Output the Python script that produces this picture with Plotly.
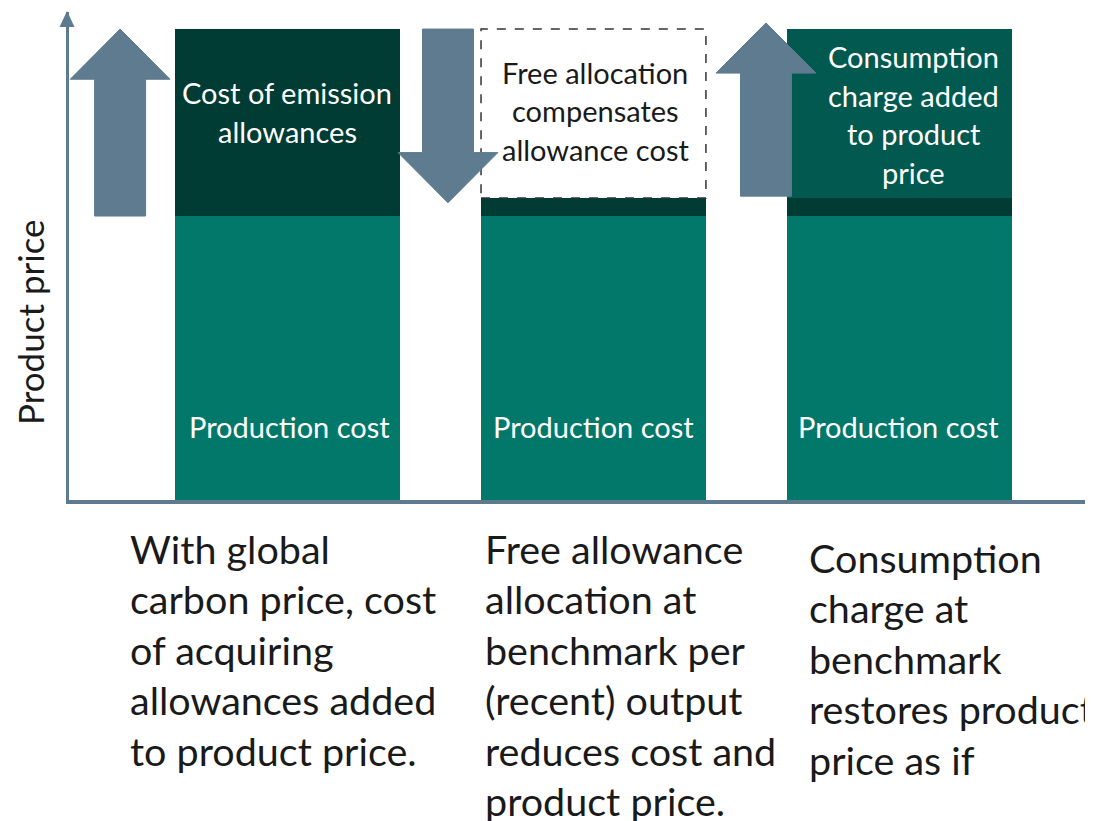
import plotly.graph_objects as go

# ---------------- data ----------------
x_pos = [0, 1, 2]
production_cost = [6.0, 6.0, 6.0]
allowance_cost = [3.95, 0.38, 0.38]
top_segment = [0.0, 3.57, 3.57]          # free allocation (dashed) / consumption charge

production_label = "Production cost"
top_labels = [
    ["Cost of emission", "allowances"],
    ["Free allocation", "compensates", "allowance cost"],
    ["Consumption", "charge added", "to product", "price"],
]
bottom_labels = [
    ["With global", "carbon price, cost", "of acquiring", "allowances added", "to product price."],
    ["Free allowance", "allocation at", "benchmark per", "(recent) output", "reduces cost and", "product price."],
    ["Consumption", "charge at", "benchmark", "restores product", "price as if"],
]
y_title = "Product price"

# ---------------- style ----------------
PROD = "#02786B"
DARK = "#003B34"
CONS = "#02594F"
ARROW = "#5E7B8F"
AXIS = "#5E7A8E"
FONT = "Lato"
BAR_W = 0.735

# page has an 8px body margin: figure is sized so it ends at the window edge
W, H = 1085, 813
ML, MR, MT, MB = 61, 0, 4, 321
PW, PH = W - ML - MR, H - MT - MB
X_RANGE = [-0.714, -0.714 + PW / 306.0]
PX_PER_Y = 47.33
Y_RANGE = [0, PH / PX_PER_Y]
PLOT_LEFT_WIN, PLOT_BOTTOM_WIN = 69, 500   # window coordinates of plot corner

totals = [p + a + t for p, a, t in zip(production_cost, allowance_cost, top_segment)]
mids = [p + a for p, a in zip(production_cost, allowance_cost)]

fig = go.Figure()
fig.add_trace(go.Bar(x=x_pos, y=production_cost, width=BAR_W, marker=dict(color=PROD, line=dict(width=0)),
                     hoverinfo="skip", name="Production cost"))
fig.add_trace(go.Bar(x=x_pos, y=allowance_cost, width=BAR_W, marker=dict(color=DARK, line=dict(width=0)),
                     hoverinfo="skip", name="Allowance cost"))
fig.add_trace(go.Bar(x=x_pos, y=top_segment, width=BAR_W,
                     marker=dict(color=["rgba(0,0,0,0)", "white", CONS], line=dict(width=0)),
                     hoverinfo="skip", name="Top"))

# dashed box around free allocation segment
fig.add_shape(type="rect", xref="x", yref="y",
              x0=x_pos[1] - BAR_W / 2, x1=x_pos[1] + BAR_W / 2, y0=mids[1], y1=totals[1],
              line=dict(color="#333333", width=1.5, dash="dash"), fillcolor="rgba(0,0,0,0)", layer="above")


def block_arrow(xc, y_tail, y_tip, shaft_hw=0.0833, head_hw=0.163, head_len=1.06):
    d = 1 if y_tip > y_tail else -1
    yb = y_tip - d * head_len
    pts = [(xc - shaft_hw, y_tail), (xc - shaft_hw, yb), (xc - head_hw, yb), (xc, y_tip),
           (xc + head_hw, yb), (xc + shaft_hw, yb), (xc + shaft_hw, y_tail)]
    return "M " + " L ".join(f"{x:.4f},{y:.4f}" for x, y in pts) + " Z"


arrows = [
    block_arrow(x_pos[0] - 0.547, production_cost[0], totals[0]),
    block_arrow(x_pos[0] + 0.5245, totals[1], mids[1] - 0.1),
    block_arrow(x_pos[1] + 0.5637, mids[2] + 0.04, totals[2] + 0.13),
]
for p in arrows:
    fig.add_shape(type="path", xref="x", yref="y", path=p, fillcolor=ARROW,
                  line=dict(color=ARROW, width=1), layer="above")

# y-axis arrowhead (paper coords)
ax_x = (67 - PLOT_LEFT_WIN) / PW
yb_ = (PLOT_BOTTOM_WIN - 27) / PH
yt_ = (PLOT_BOTTOM_WIN - 11) / PH
fig.add_shape(type="path", xref="paper", yref="paper",
              path=f"M {ax_x - 7.5/PW},{yb_} L {ax_x + 7.5/PW},{yb_} L {ax_x},{yt_} Z",
              fillcolor=AXIS, line=dict(width=0), layer="above")

annotations = []
# inside labels
first_line_y = [8.60, 9.04, 9.36]
label_dx = [0.0, 0.005, 0.046]
for i, lines in enumerate(top_labels):
    color = "white" if i != 1 else "#1a1a1a"
    for j, line in enumerate(lines):
        annotations.append(dict(x=x_pos[i] + label_dx[i], y=first_line_y[i], xref="x", yref="y", text=line,
                                showarrow=False, yshift=-38.5 * j, xanchor="center", yanchor="middle",
                                font=dict(family=FONT, size=29, color=color)))
prod_dx = [0.008, 0.0, -0.003]
for i in range(3):
    annotations.append(dict(x=x_pos[i] + prod_dx[i], y=1.56, xref="x", yref="y", text=production_label,
                            showarrow=False, xanchor="center", yanchor="middle",
                            font=dict(family=FONT, size=29, color="white")))

# bottom descriptions
bottom_x = [x_pos[0] - 0.522, x_pos[1] - 0.360, x_pos[2] - 0.302]
bottom_first_px = [548, 548, 557]
for i, lines in enumerate(bottom_labels):
    for j, line in enumerate(lines):
        annotations.append(dict(x=bottom_x[i], y=(PLOT_BOTTOM_WIN - bottom_first_px[i]) / PH, xref="x", yref="paper",
                                text=line, showarrow=False, yshift=-50.5 * j, xanchor="left", yanchor="middle",
                                font=dict(family=FONT, size=39.5, color="#1a1a1a")))

annotations.append(dict(x=(30 - PLOT_LEFT_WIN) / PW, y=(PLOT_BOTTOM_WIN - 322) / PH, xref="paper", yref="paper",
                        text=y_title, showarrow=False, textangle=-90, xanchor="center", yanchor="middle",
                        font=dict(family=FONT, size=35, color="#1a1a1a")))

fig.update_layout(
    width=W, height=H, margin=dict(l=ML, r=MR, t=MT, b=MB),
    barmode="stack", bargap=0, showlegend=False,
    plot_bgcolor="white", paper_bgcolor="white",
    annotations=annotations,
    xaxis=dict(range=X_RANGE, showgrid=False, zeroline=False, showticklabels=False, ticks="",
               showline=True, linewidth=4, linecolor=AXIS, fixedrange=True),
    yaxis=dict(range=Y_RANGE, showgrid=False, zeroline=False, showticklabels=False, ticks="",
               showline=True, linewidth=3, linecolor=AXIS, fixedrange=True),
)

fig.write_html("out.html", config={"displayModeBar": False})
